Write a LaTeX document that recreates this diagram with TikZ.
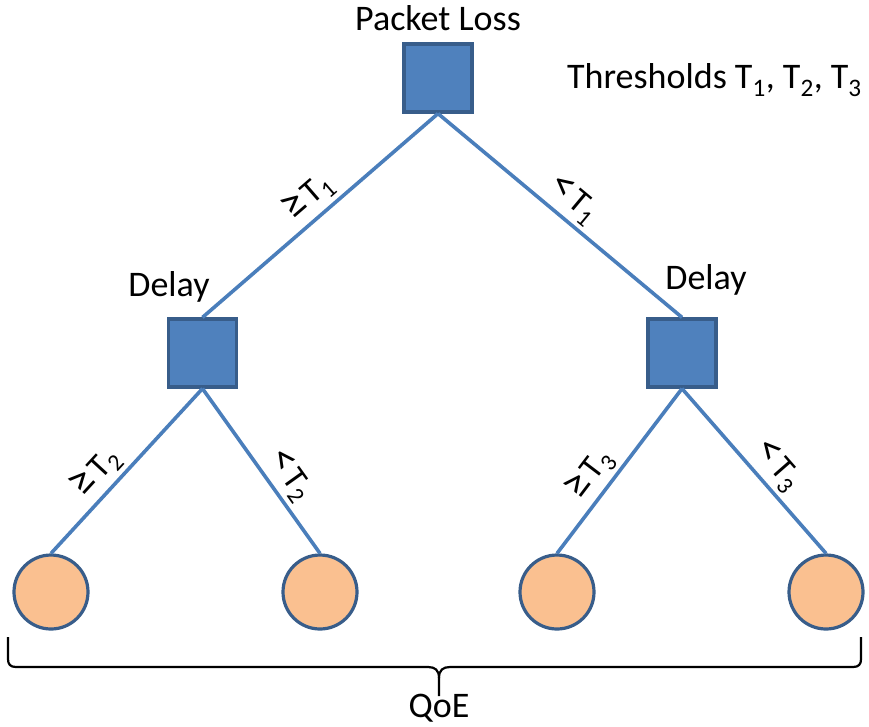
\documentclass[tikz,border=0pt]{standalone}
\usepackage{graphicx}
\usepackage{fontspec}
\setmainfont{Carlito}
\definecolor{sqfill}{HTML}{4F81BD}
\definecolor{sqdraw}{HTML}{385D8A}
\definecolor{cfill}{HTML}{FAC090}
\definecolor{edgec}{HTML}{4A7EBB}
\tikzset{
  sq/.style={draw=sqdraw, fill=sqfill, line width=3.2pt, minimum size=68pt, inner sep=0pt},
  leaf/.style={circle, draw=sqdraw, fill=cfill, line width=3.2pt, minimum size=74pt, inner sep=0pt},
  edge/.style={draw=edgec, line width=3.6pt},
  lbl/.style={font=\fontsize{36}{40}\selectfont, inner sep=0pt},
  elbl/.style={font=\fontsize{34}{38}\selectfont, sloped, above, inner sep=4pt},
  bracec/.style={draw=black, line width=2.2pt}
}
\newcommand{\gtsym}{\scalebox{1.3}{≥}\hspace{0.1em}}
\newcommand{\ltsym}{\scalebox{1.25}{<}\hspace{0.1em}}
\begin{document}
\begin{tikzpicture}[x=1pt,y=-1pt]
\useasboundingbox (0,0) rectangle (869,726);
\node[sq] (top) at (438,78) {};
\node[sq] (dl) at (202.5,353) {};
\node[sq] (dr) at (682,353) {};
\node[leaf] (c1) at (51,592) {};
\node[leaf] (c2) at (320,592) {};
\node[leaf] (c3) at (557,592) {};
\node[leaf] (c4) at (826,592) {};

\node[lbl] (pl) at (438,18) {Packet Loss};
\node[lbl, anchor=west] (th) at (567,80) {Thresholds T\textsubscript{1}, T\textsubscript{2}, T\textsubscript{3}};
\node[lbl] (dlab) at (169,287) {Delay};
\node[lbl] (drab) at (706,280) {Delay};

\draw[edge] (top.south) -- node[elbl, pos=0.49] (l1) {\gtsym T\textsubscript{1}} (dl.north);
\draw[edge] (top.south) -- node[elbl, pos=0.5] (r1) {\ltsym T\textsubscript{1}} (dr.north);
\draw[edge] (dl.south) -- node[elbl, pos=0.6] (l2) {\gtsym T\textsubscript{2}} (c1.north);
\draw[edge] (dl.south) -- node[elbl, pos=0.6] (r2) {\ltsym T\textsubscript{2}} (c2.north);
\draw[edge] (dr.south) -- node[elbl, pos=0.6] (l3) {\gtsym T\textsubscript{3}} (c3.north);
\draw[edge] (dr.south) -- node[elbl, pos=0.55] (r3) {\ltsym T\textsubscript{3}} (c4.north);

\coordinate (bl) at (8,637);
\coordinate (br) at (861,637);
\coordinate (bt) at (439,696);
\draw[bracec, line join=round] (bl) -- (8,659) .. controls (8,664) and (10,667) .. (16,667) -- (428,667) .. controls (435,667) and (439,670) .. (439,678) -- (bt);
\draw[bracec, line join=round] (br) -- (861,659) .. controls (861,664) and (859,667) .. (853,667) -- (450,667) .. controls (443,667) and (439,670) .. (439,678);
\node[lbl] (qoe) at (439,708) {QoE};
\end{tikzpicture}
\end{document}
